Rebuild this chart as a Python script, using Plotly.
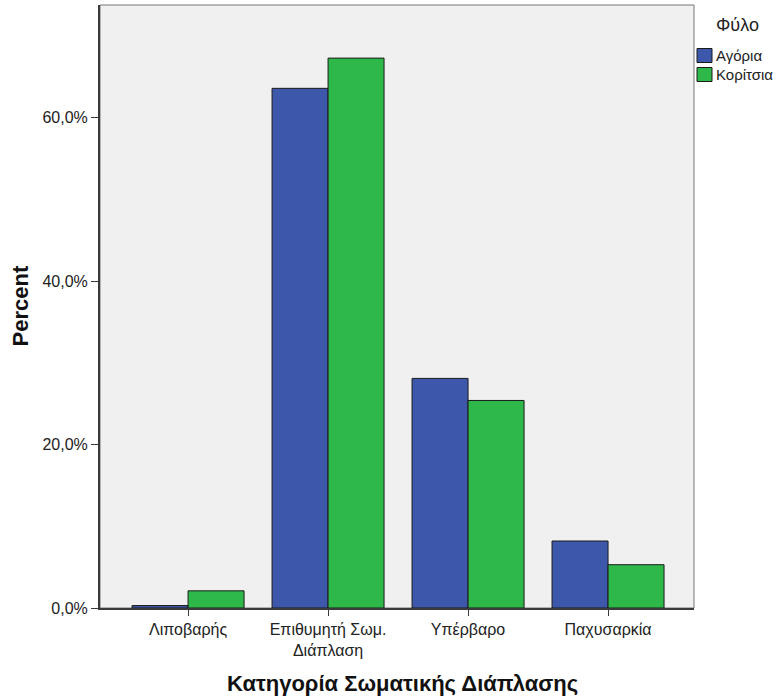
import plotly.graph_objects as go

categories = ["Λιποβαρής", "Επιθυμητή Σωμ.<br>Διάπλαση", "Υπέρβαρο", "Παχυσαρκία"]
boys = [0.3, 63.6, 28.1, 8.2]
girls = [2.1, 67.3, 25.4, 5.3]
y_ticks = [0, 20, 40, 60]
y_tick_text = ["0,0%", "20,0%", "40,0%", "60,0%"]
series_names = ["Αγόρια", "Κορίτσια"]
series_colors = ["#3d57aa", "#2fb84a"]
legend_title = "Φύλο"
x_title = "Κατηγορία Σωματικής Διάπλασης"
y_title = "Percent"

font_family = "Liberation Sans, Arial, sans-serif"

# plot area in pixels
L, R, T, B = 100, 694, 5, 608
W, H = 780, 700
pw, ph = R - L, B - T


def px_x(px):
    return (px - L) / pw


def px_y(py):
    return (B - py) / ph


fig = go.Figure()
for name, vals, col in zip(series_names, [boys, girls], series_colors):
    fig.add_trace(go.Bar(name=name, x=categories, y=vals,
                         marker=dict(color=col, line=dict(color="#1a1a1a", width=1))))

fig.update_layout(
    width=W, height=H,
    margin=dict(l=L, r=W - R, t=T, b=H - B, autoexpand=False),
    paper_bgcolor="white",
    plot_bgcolor="#f0f0f0",
    barmode="group",
    bargap=0.2,
    bargroupgap=0,
    font=dict(family=font_family, size=16, color="#222"),
    showlegend=False,
)

fig.update_xaxes(
    range=[-0.629, 3.614],
    automargin=False,
    showline=True, linecolor="#3a3a3a", linewidth=2,
    ticks="outside", ticklen=6, tickcolor="#3a3a3a", tickwidth=1,
    showgrid=False,
    tickfont=dict(size=16, color="#222"),
)
fig.update_yaxes(
    range=[0, 73.8],
    automargin=False,
    tickvals=y_ticks, ticktext=y_tick_text,
    showline=True, linecolor="#3a3a3a", linewidth=2,
    ticks="outside", ticklen=7, tickcolor="#3a3a3a", tickwidth=1,
    showgrid=False, zeroline=False,
    tickfont=dict(size=16, color="#222"),
)

# frame on top and right of plot area
fig.add_shape(type="rect", xref="paper", yref="paper", x0=0, y0=0, x1=1, y1=1,
              line=dict(color="#777", width=1), layer="below")

annotations = [
    dict(text="<b>" + y_title + "</b>", x=px_x(20), y=0.5, xref="paper", yref="paper",
         textangle=-90, showarrow=False, xanchor="center", yanchor="middle",
         font=dict(size=22, color="#111", family=font_family)),
    dict(text="<b>" + x_title + "</b>", x=px_x(402), y=px_y(683), xref="paper", yref="paper",
         showarrow=False, xanchor="center", yanchor="middle",
         font=dict(size=22, color="#111", family=font_family)),
    dict(text=legend_title, x=px_x(737), y=px_y(25), xref="paper", yref="paper",
         showarrow=False, xanchor="center", yanchor="middle",
         font=dict(size=18, color="#222", family=font_family)),
]

# manual legend
for i, (name, col) in enumerate(zip(series_names, series_colors)):
    yc = 55.5 + i * 19
    fig.add_shape(type="rect", xref="paper", yref="paper",
                  x0=px_x(697), x1=px_x(712), y0=px_y(yc + 7), y1=px_y(yc - 7),
                  fillcolor=col, line=dict(color="#1a1a1a", width=1))
    annotations.append(dict(text=name, x=px_x(714), y=px_y(yc), xref="paper", yref="paper",
                            showarrow=False, xanchor="left", yanchor="middle",
                            font=dict(size=15, color="#222", family=font_family)))

fig.update_layout(annotations=annotations)

fig.write_html("out.html", config={"displayModeBar": False},
               post_script="document.body.style.margin='0';document.body.style.overflow='hidden';")
